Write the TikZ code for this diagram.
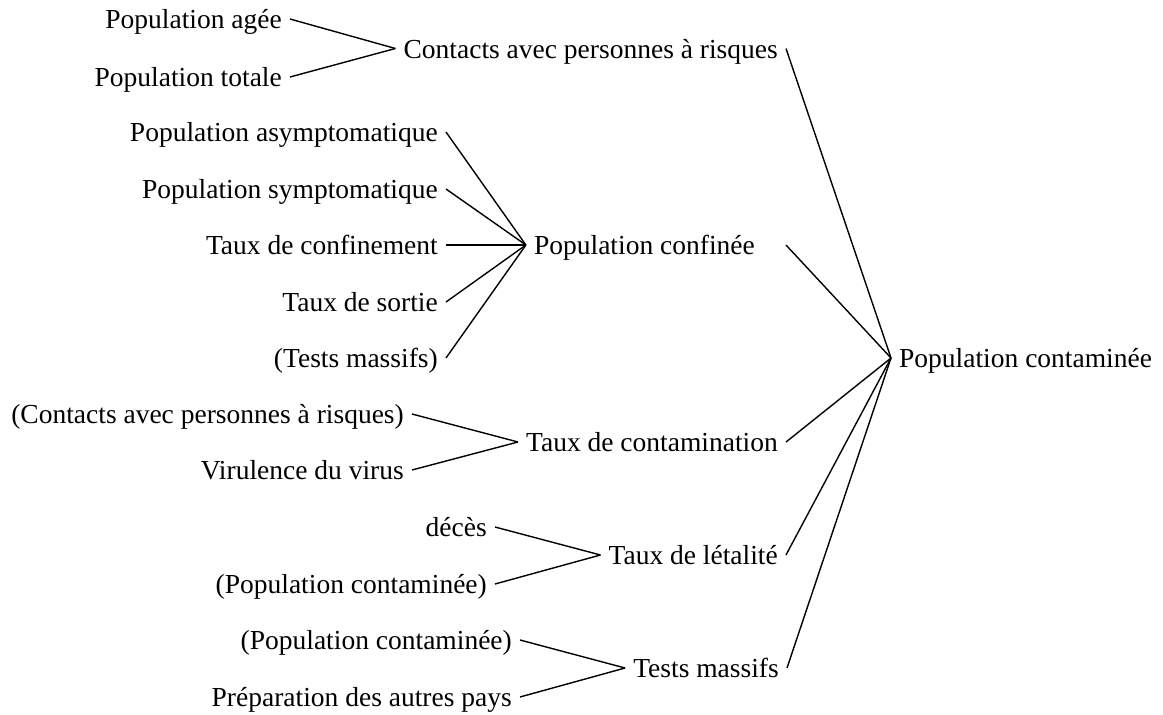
\documentclass[tikz,border=0pt]{standalone}
\usepackage{fontspec}
\setmainfont{Liberation Serif}
\begin{document}
\begin{tikzpicture}[x=1pt,y=-1pt,line width=1.4pt,
  every node/.style={font=\fontsize{27.5}{33}\selectfont,inner xsep=7.5pt,inner ysep=0pt,text depth=0pt},
  cause/.style={anchor=east},
  level/.style={anchor=east},
  effect/.style={anchor=west}]
  \useasboundingbox (0,0) rectangle (1163,715);
  % resultat
  \node[effect] (pc) at (891,358) {Population contaminée};
  % niveau intermediaire
  \node[level] (cr) at (786,48.5) {Contacts avec personnes à risques};
  \node[level] (conf) at (763,245) {Population confinée};
  \node[level] (tc) at (786,442) {Taux de contamination};
  \node[level] (tl) at (786,555) {Taux de létalité};
  \node[level] (tm) at (787,668) {Tests massifs};
  \foreach \n in {cr,tc,tl,tm}
    \draw (\n.east) -- (pc.west);
  \draw (conf.east -| cr.east) -- (pc.west);
  % causes
  \node[cause] (pa) at (290,19) {Population agée};
  \node[cause] (pt) at (290,77) {Population totale};
  \foreach \n in {pa,pt}
    \draw (\n.east) -- (cr.west);
  \foreach \t/\y/\n in {Population asymptomatique/132/pas,Population symptomatique/189/ps,
      Taux de confinement/245/tcf,Taux de sortie/302/ts,(Tests massifs)/358/tmb}{
    \node[cause] (\n) at (446,\y) {\t};
    \draw (\n.east) -- (conf.west);
  }
  \node[cause] (crb) at (412,414) {(Contacts avec personnes à risques)};
  \node[cause] (vv) at (412,470) {Virulence du virus};
  \foreach \n in {crb,vv}
    \draw (\n.east) -- (tc.west);
  \node[cause] (dc) at (495,527) {décès};
  \node[cause] (pcb) at (495,584) {(Population contaminée)};
  \foreach \n in {dc,pcb}
    \draw (\n.east) -- (tl.west);
  \node[cause] (pcc) at (520,640) {(Population contaminée)};
  \node[cause] (pap) at (520,697) {Préparation des autres pays};
  \foreach \n in {pcc,pap}
    \draw (\n.east) -- (tm.west);
\end{tikzpicture}
\end{document}
